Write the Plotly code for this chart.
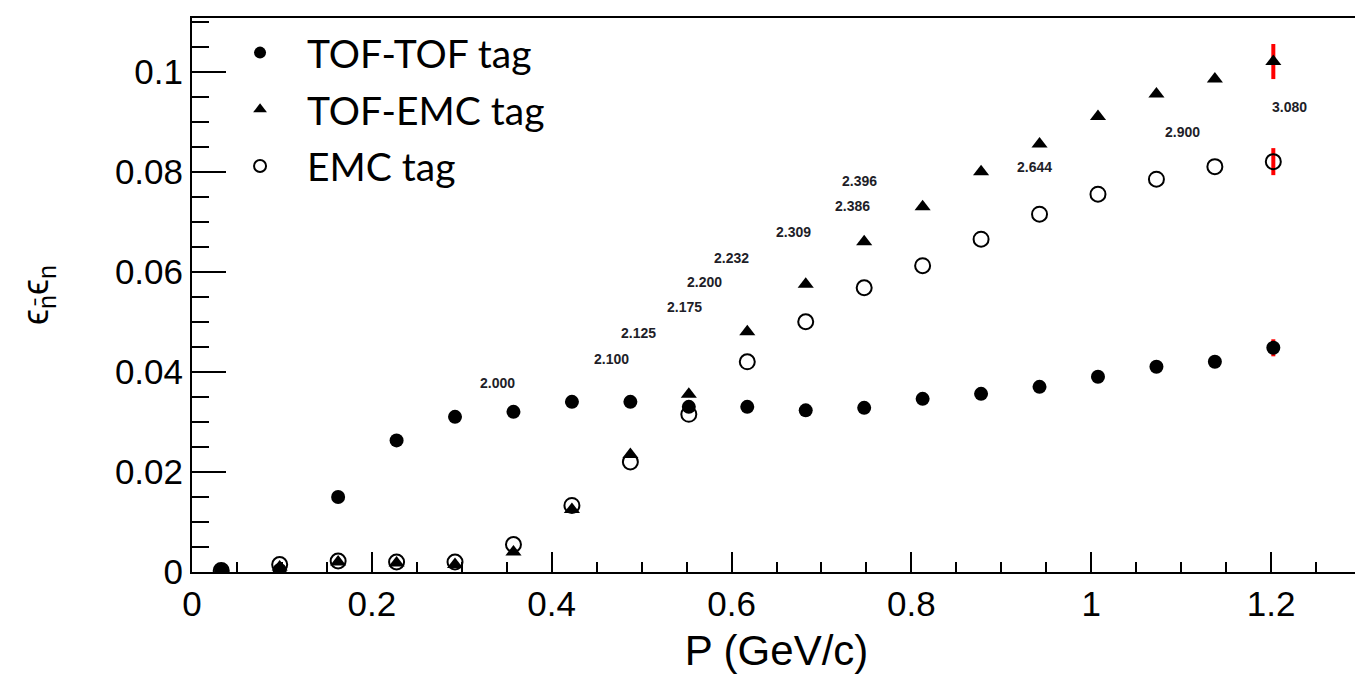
import plotly.graph_objects as go

# ---- data ----
p_values = [0.0325, 0.0975, 0.1625, 0.2275, 0.2925, 0.3575, 0.4225, 0.4875, 0.5525, 0.6175,
            0.6825, 0.7475, 0.8125, 0.8775, 0.9425, 1.0075, 1.0725, 1.1375, 1.2025]

tof_tof = [0.0003, 0.0004, 0.0150, 0.0263, 0.0310, 0.0320, 0.0340, 0.0340, 0.0330, 0.0330,
           0.0323, 0.0328, 0.0346, 0.0356, 0.0370, 0.0390, 0.0410, 0.0420, 0.0448]
tof_emc = [0.0002, 0.0010, 0.0020, 0.0018, 0.0015, 0.0040, 0.0125, 0.0235, 0.0355, 0.0480,
           0.0575, 0.0660, 0.0730, 0.0800, 0.0855, 0.0910, 0.0955, 0.0985, 0.1020]
emc = [0.0003, 0.0015, 0.0022, 0.0020, 0.0020, 0.0055, 0.0133, 0.0220, 0.0315, 0.0420,
       0.0500, 0.0568, 0.0612, 0.0665, 0.0715, 0.0755, 0.0785, 0.0810, 0.0820]

tof_tof_err = [0] * 18 + [0.0017]
tof_emc_err = [0] * 18 + [0.0035]
emc_err = [0] * 18 + [0.0027]

label_texts = ["2.000", "2.100", "2.125", "2.175", "2.200", "2.232", "2.309", "2.386",
               "2.396", "2.644", "2.900", "3.080"]
label_p = [0.340, 0.466, 0.496, 0.548, 0.570, 0.600, 0.669, 0.734, 0.742, 0.937, 1.102, 1.221]
label_v = [0.0378, 0.0425, 0.0477, 0.0529, 0.0580, 0.0628, 0.0680, 0.0732, 0.0781, 0.0809,
           0.0879, 0.0930]

x_ticks = [0, 0.2, 0.4, 0.6, 0.8, 1, 1.2]
x_tick_text = ["0", "0.2", "0.4", "0.6", "0.8", "1", "1.2"]
y_ticks = [0, 0.02, 0.04, 0.06, 0.08, 0.1]
y_tick_text = ["0", "0.02", "0.04", "0.06", "0.08", "0.1"]

fig = go.Figure()

err_style = dict(type="data", visible=True, color="red", thickness=4, width=0)

fig.add_trace(go.Scatter(
    x=p_values, y=tof_tof, mode="markers", name="TOF-TOF tag",
    marker=dict(symbol="circle", size=14, color="black"),
    error_y=dict(array=tof_tof_err, **err_style),
    legendgroup="a"))
fig.add_trace(go.Scatter(
    x=p_values, y=tof_emc, mode="markers", name="TOF-EMC tag",
    marker=dict(symbol="triangle-up", size=14, color="black"),
    error_y=dict(array=tof_emc_err, **err_style),
    legendgroup="b"))
fig.add_trace(go.Scatter(
    x=p_values, y=emc, mode="markers", name="EMC tag",
    marker=dict(symbol="circle-open", size=15, color="black", line=dict(width=2, color="black")),
    error_y=dict(array=emc_err, **err_style),
    legendgroup="c"))

for t, px, pv in zip(label_texts, label_p, label_v):
    fig.add_annotation(x=px, y=pv, text="<b>" + t + "</b>", showarrow=False,
                       font=dict(family="Liberation Sans, Arial", size=14, color="#1e1e28"),
                       xanchor="center", yanchor="middle")

axis_common = dict(
    showline=True, linecolor="black", linewidth=2, mirror=True,
    ticks="inside", tickcolor="black", tickwidth=2,
    showgrid=False, zeroline=False,
    tickfont=dict(family="Liberation Sans, Arial", size=35, color="black"),
)

fig.update_xaxes(
    range=[0, 1.3], tickmode="array", tickvals=x_ticks, ticktext=x_tick_text,
    ticklen=20,
    minor=dict(ticks="inside", dtick=0.05, tick0=0, ticklen=10, tickcolor="black", tickwidth=2),
    title=dict(text="P (GeV/c)", font=dict(family="Liberation Sans, Arial", size=42, color="black"),
               standoff=14),
    **axis_common)
fig.update_yaxes(
    range=[0, 0.1107], tickmode="array", tickvals=y_ticks, ticktext=y_tick_text,
    ticklen=34,
    minor=dict(ticks="inside", dtick=0.005, tick0=0, ticklen=17, tickcolor="black", tickwidth=2),
    title=dict(text="ϵ<sub>n̄</sub>ϵ<sub>n</sub>",
               font=dict(family="Liberation Sans, Arial", size=36, color="black"),
               standoff=55),
    **axis_common)

fig.update_layout(
    width=1363, height=679,
    margin=dict(l=184, r=10, t=8, b=115),
    paper_bgcolor="white", plot_bgcolor="white",
    showlegend=True,
    legend=dict(x=0.018, y=0.995, xanchor="left", yanchor="top",
                bgcolor="rgba(0,0,0,0)", borderwidth=0,
                font=dict(family="Lato, Open Sans", size=39, color="black"),
                tracegroupgap=3, itemsizing="constant", itemwidth=84),
)

fig.write_html("out.html")
